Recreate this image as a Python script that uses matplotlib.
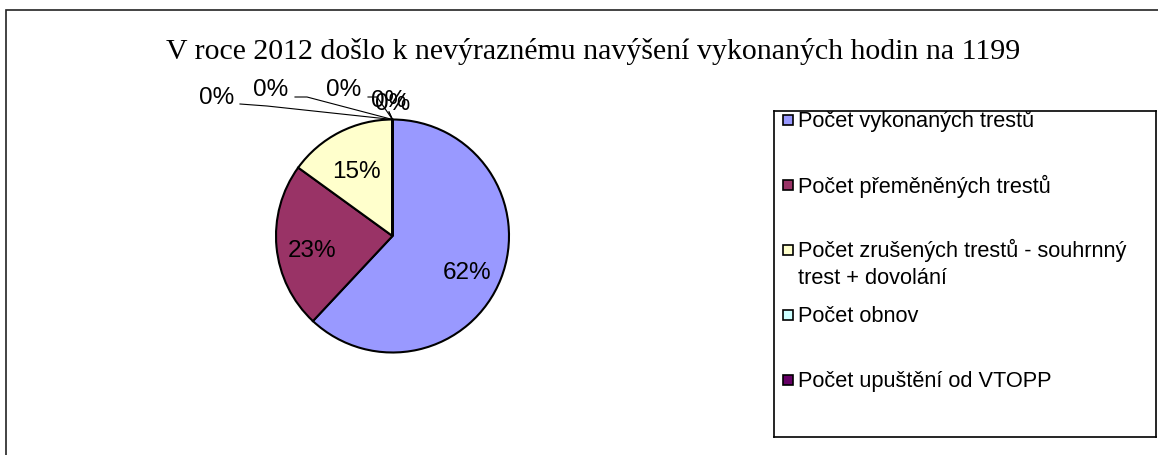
import matplotlib
matplotlib.use("Agg")
import matplotlib.pyplot as plt
import matplotlib.patches as mpatches
import numpy as np

# ── data ──────────────────────────────────────────────────────────────────────
TITLE = "V roce 2012 došlo k nevýraznému navýšení vykonaných hodin na 1199"
categories = [
    "Počet vykonaných trestů",
    "Počet přeměněných trestů",
    "Počet zrušených trestů - souhrnný\ntrest + dovolání",
    "Počet obnov",
    "Počet upuštění od VTOPP",
    "Ostatní A",
    "Ostatní B",
    "Ostatní C",
]
values = [743, 276, 180, 0, 0, 0, 0, 0]
colors = ["#9999FF", "#993366", "#FFFFCC", "#CCFFFF", "#660066",
          "#FF8080", "#0066CC", "#CCCCFF"]
legend_shown = 5   # only the first five entries fit in the legend box

W, H = 1158, 455
fig = plt.figure(figsize=(W / 100, H / 100), dpi=100)

def fx(px):
    return px / W

def fy(py_top):
    return (H - py_top) / H

# outer chart frame (right/bottom edges fall outside the picture)
fig.add_artist(mpatches.Rectangle((fx(6), -0.1), 1.1, fy(10) + 0.1,
                                  transform=fig.transFigure, fill=False,
                                  lw=1.2, ec="#222222"))

fig.text(fx(593), fy(59), TITLE, ha="center", va="baseline",
         fontsize=21.5, family="Liberation Serif")

# ── pie ───────────────────────────────────────────────────────────────────────
cx, cy, R = 392.5, 236, 116.5
left_px, right_px, top_px, bot_px = 160, 630, 60, 420
ax = fig.add_axes([fx(left_px), fy(bot_px), (right_px - left_px) / W,
                   (bot_px - top_px) / H])
wedges, _ = ax.pie(values, colors=colors, startangle=90, counterclock=False,
                   wedgeprops=dict(edgecolor="black", linewidth=1.5))
ax.set_xlim((left_px - cx) / R, (right_px - cx) / R)
ax.set_ylim((cy - bot_px) / R, (cy - top_px) / R)
ax.set_axis_off()

total = sum(values)
# label placement for the tiny slices (pixel coords of label centre)
zero_label_px = [(217, 98), (271, 90), (344, 90), (393, 104), (389, 101)]
zero_line_px = [
    [(240, 104), (267, 106)],
    [(295, 97), (307, 97)],
    [(368, 97), (377, 97)],
    [(389, 112)],
    [(389, 112)],
]
zi = 0
for w, v in zip(wedges, values):
    pct = 100 * v / total
    lab = f"{pct:.0f}%"
    if pct >= 0.5:
        th = np.deg2rad((w.theta1 + w.theta2) / 2)
        ax.text(0.69 * np.cos(th), 0.69 * np.sin(th) - 0.04, lab,
                ha="center", va="center_baseline", fontsize=17.5,
                family="Liberation Sans")
    else:
        th = np.deg2rad(w.theta1)
        tip = (np.cos(th), np.sin(th))
        lx, ly = zero_label_px[zi]
        ax.text((lx - cx) / R, (cy - ly) / R, lab, ha="center", va="center",
                fontsize=17.5, family="Liberation Sans")
        pts = [((px - cx) / R, (cy - py) / R) for px, py in zero_line_px[zi]]
        pts.append(tip)
        xs, ys = zip(*pts)
        ax.plot(xs, ys, color="black", lw=0.8, clip_on=False)
        zi += 1

# ── legend (drawn by hand so the top entry is clipped like the original) ──────
lx0, lx1, ly0, ly1 = 774, 1156, 111, 437
lax = fig.add_axes([fx(lx0), fy(ly1), (lx1 - lx0) / W, (ly1 - ly0) / H])
lax.set_xlim(lx0, lx1)
lax.set_ylim(ly1, ly0)
lax.set_xticks([])
lax.set_yticks([])
for sp in lax.spines.values():
    sp.set_linewidth(1.2)
    sp.set_color("black")

entry_y = [120, 185, 250, 315, 380]
for i in range(legend_shown):
    y = entry_y[i]
    lax.plot([788], [y], marker="s", markersize=7.2, mfc=colors[i],
             mec="black", mew=1.2, clip_on=True)
    for j, line in enumerate(categories[i].split("\n")):
        lax.text(798, y + 7.5 + j * 26, line, ha="left", va="baseline",
                 fontsize=15.7, family="Liberation Sans", clip_on=True)

fig.savefig("out.png", dpi=100)
